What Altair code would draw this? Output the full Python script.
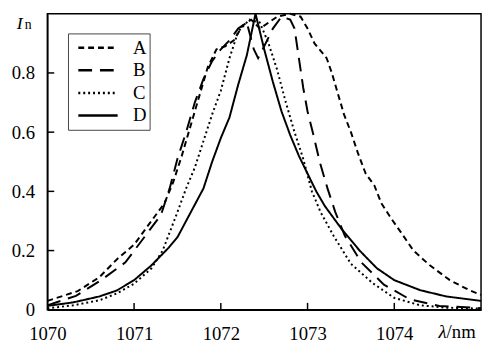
import altair as alt
import pandas as pd

FONT = "Liberation Serif, Times New Roman, Times, serif"

series_names = ["A", "B", "C", "D"]

A_x = [1070.0, 1070.35, 1070.6, 1070.8, 1071.0, 1071.2, 1071.35, 1071.45, 1071.55, 1071.65,
       1071.75, 1071.85, 1071.95, 1072.05, 1072.15, 1072.25, 1072.35, 1072.45, 1072.55, 1072.65,
       1072.8, 1072.92, 1073.0, 1073.08, 1073.22, 1073.28, 1073.35, 1073.42, 1073.5, 1073.58,
       1073.67, 1073.77, 1073.85, 1073.96, 1074.08, 1074.22, 1074.41, 1074.64, 1074.86, 1075.0]
A_y = [0.03, 0.063, 0.11, 0.17, 0.22, 0.30, 0.36, 0.43, 0.52, 0.62,
       0.72, 0.82, 0.88, 0.89, 0.91, 0.96, 0.98, 0.95, 0.97, 0.99,
       1.0, 0.99, 0.95, 0.90, 0.85, 0.80, 0.73, 0.66, 0.60, 0.53,
       0.46, 0.42, 0.36, 0.31, 0.26, 0.20, 0.15, 0.10, 0.067, 0.05]

B_x = [1070.0, 1070.33, 1070.62, 1070.9, 1071.13, 1071.31, 1071.41, 1071.5, 1071.6, 1071.7,
       1071.8, 1071.9, 1072.0, 1072.1, 1072.2, 1072.3, 1072.38, 1072.43, 1072.5, 1072.6,
       1072.7, 1072.8, 1072.85, 1072.9, 1072.95, 1073.0, 1073.06, 1073.14, 1073.23, 1073.32,
       1073.43, 1073.62, 1073.88, 1074.18, 1074.52, 1074.9, 1075.0]
B_y = [0.015, 0.047, 0.10, 0.16, 0.25, 0.32, 0.41, 0.51, 0.60, 0.70,
       0.78, 0.84, 0.88, 0.91, 0.95, 0.97, 0.88, 0.85, 0.89, 0.95,
       0.99, 0.98, 0.95, 0.85, 0.75, 0.67, 0.60, 0.50, 0.41, 0.33,
       0.25, 0.16, 0.085, 0.035, 0.013, 0.007, 0.005]

C_x = [1070.0, 1070.3, 1070.6, 1070.8, 1071.0, 1071.2, 1071.33, 1071.5, 1071.6, 1071.7,
       1071.8, 1071.9, 1072.0, 1072.1, 1072.2, 1072.33, 1072.45, 1072.55, 1072.65, 1072.75,
       1072.85, 1072.95, 1073.05, 1073.15, 1073.3, 1073.5, 1073.75, 1074.0, 1074.3, 1074.6, 1075.0]
C_y = [0.005, 0.015, 0.032, 0.055, 0.088, 0.14, 0.20, 0.33, 0.41, 0.48,
       0.57, 0.66, 0.74, 0.85, 0.94, 0.98, 0.97, 0.90, 0.81, 0.70,
       0.60, 0.51, 0.40, 0.33, 0.25, 0.155, 0.09, 0.04, 0.015, 0.007, 0.004]

D_x = [1070.0, 1070.3, 1070.6, 1070.8, 1071.0, 1071.2, 1071.4, 1071.5, 1071.6, 1071.7,
       1071.8, 1071.9, 1072.0, 1072.1, 1072.2, 1072.3, 1072.4, 1072.5, 1072.6, 1072.7,
       1072.8, 1072.9, 1073.0, 1073.1, 1073.2, 1073.3, 1073.4, 1073.5, 1073.6, 1073.8,
       1074.0, 1074.3, 1074.6, 1075.0]
D_y = [0.013, 0.025, 0.045, 0.065, 0.10, 0.15, 0.21, 0.245, 0.30, 0.355,
       0.41, 0.50, 0.58, 0.65, 0.76, 0.86, 1.0, 0.88, 0.77, 0.67,
       0.59, 0.52, 0.46, 0.40, 0.35, 0.31, 0.27, 0.235, 0.20, 0.14,
       0.10, 0.066, 0.045, 0.03]

x_ticks = [1070, 1071, 1072, 1073, 1074]
y_ticks = [0, 0.2, 0.4, 0.6, 0.8]

rows = []
for name, xs, ys in zip(series_names, [A_x, B_x, C_x, D_x], [A_y, B_y, C_y, D_y]):
    for x, y in zip(xs, ys):
        rows.append({"series": name, "wl": x, "In": y})
df = pd.DataFrame(rows)

W, H = 441, 301

xscale = alt.Scale(domain=[1070, 1075], nice=False, zero=False)
yscale = alt.Scale(domain=[0, 1], nice=False, zero=False)

x_axis = alt.Axis(values=x_ticks, format="d", title=None, grid=False, ticks=False, tickSize=0,
                  labelPadding=15, labelFont=FONT, labelFontSize=19, labelColor="black",
                  domainColor="black", domainWidth=1.5, labelFlush=False, labelOverlap=False)
y_axis = alt.Axis(values=y_ticks, labelExpr="datum.value == 0 ? '0' : format(datum.value, '.1f')",
                  title=None, grid=False, ticks=False, tickSize=0, labelPadding=13,
                  labelFont=FONT, labelFontSize=19, labelColor="black",
                  domainColor="black", domainWidth=1.5, labelFlush=False, labelOverlap=False)

legend = alt.Legend(title=None, orient="none", legendX=21, legendY=20, direction="vertical",
                    symbolType="stroke", symbolSize=1600, symbolStrokeWidth=2.5,
                    symbolStrokeColor="black", symbolOffset=6, clipHeight=23, rowPadding=0,
                    padding=3, labelFont=FONT, labelFontSize=19, labelColor="black",
                    labelOffset=14, labelExpr="datum.label + '\u00a0\u00a0\u00a0\u00a0\u00a0'",
                    strokeColor="#444444", fillColor="white", cornerRadius=0)

lines = alt.Chart(df).mark_line(strokeWidth=2, color="black").encode(
    x=alt.X("wl:Q", scale=xscale, axis=x_axis),
    y=alt.Y("In:Q", scale=yscale, axis=y_axis),
    strokeDash=alt.StrokeDash("series:N",
                              scale=alt.Scale(domain=series_names,
                                              range=[[6, 4], [14, 8], [2, 3], [1, 0]]),
                              legend=legend),
)

xt = alt.Chart(pd.DataFrame({"wl": x_ticks[1:]})).mark_rule(color="black", strokeWidth=1.5).encode(
    x=alt.X("wl:Q", scale=xscale, axis=x_axis), y=alt.value(H), y2=alt.value(H - 7))
yt = alt.Chart(pd.DataFrame({"In": y_ticks[1:]})).mark_rule(color="black", strokeWidth=1.5).encode(
    y=alt.Y("In:Q", scale=yscale, axis=y_axis), x=alt.value(0), x2=alt.value(7))


def txt(s, x, y, size=19, style="normal", align="left"):
    return alt.Chart(pd.DataFrame({"t": [s]})).mark_text(
        font=FONT, fontSize=size, fontStyle=style, align=align, baseline="alphabetic",
        color="black").encode(text="t:N", x=alt.value(x), y=alt.value(y))


t_I = txt("I", -31, 15, size=18, style="italic")
t_n = txt("n", -23, 16, size=14)
t_lam = txt("λ", 406, 330, size=19, style="italic", align="right")
t_nm = txt("/nm", 406, 330, size=19)

chart = alt.layer(lines, xt, yt, t_I, t_n, t_lam, t_nm).properties(
    width=W, height=H,
    autosize=alt.AutoSizeParams(type="none"),
    padding={"left": 40, "top": 3, "right": 2, "bottom": 34},
).configure_view(stroke="black", strokeWidth=1.5)

chart.save("out.html", embed_options={"renderer": "svg", "actions": False})
